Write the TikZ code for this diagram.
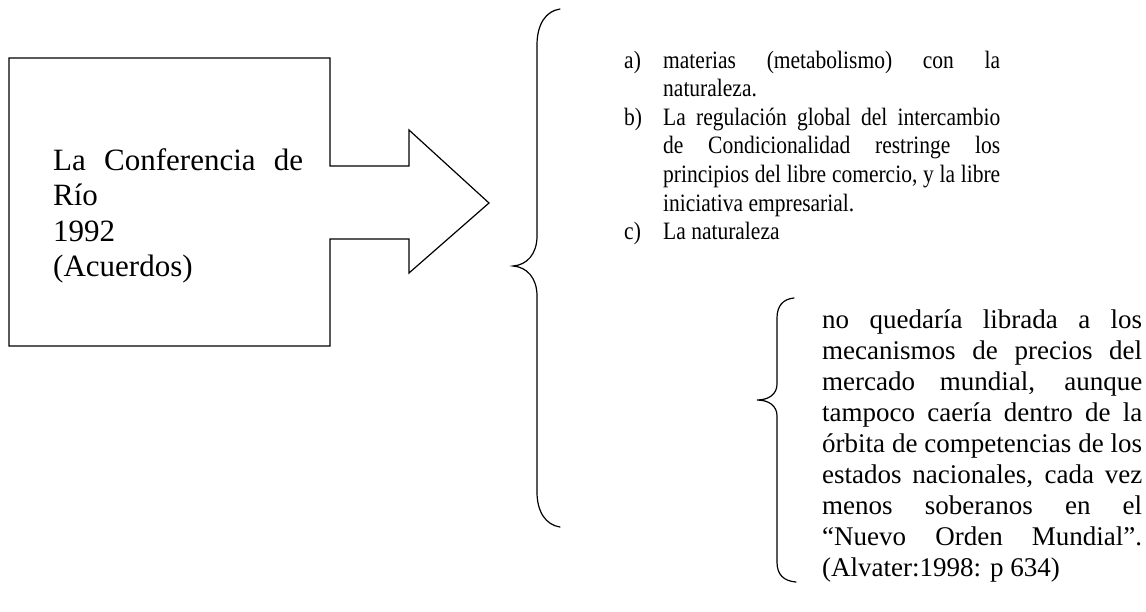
\documentclass[tikz,border=0pt]{standalone}
\usepackage{fontspec}
\setmainfont{Liberation Serif}
\newfontfamily\listfont[FakeStretch=0.86]{Liberation Serif}
\tikzset{
  outline/.style={line width=1.2pt, line join=miter},
  bracestroke/.style={line width=1.2pt, line cap=round},
  txt/.style={inner sep=0pt, anchor=base west},
}
\begin{document}
\begin{tikzpicture}[x=1pt,y=-1pt]
\useasboundingbox (0,0) rectangle (1146,611);
% box with arrow
\coordinate (b1) at (9,58);
\coordinate (b2) at (330,58);
\coordinate (n1) at (330,166);
\coordinate (s1) at (409,166);
\coordinate (h1) at (409,130);
\coordinate (tip) at (489,203);
\coordinate (h2) at (409,273);
\coordinate (s2) at (409,239);
\coordinate (n2) at (330,239);
\coordinate (b3) at (330,346);
\coordinate (b4) at (9,346);
\draw[outline] (b1) -- (b2) -- (n1) -- (s1) -- (h1) -- (tip) -- (h2) -- (s2) -- (n2) -- (b3) -- (b4) -- cycle;
\node[txt] (rio) at (53,170) {\parbox[t]{250pt}{\fontsize{31}{35.5}\selectfont
\makebox[250pt][s]{La Conferencia de}\\
Río\\
1992\\
(Acuerdos)}};
% big brace
\draw[bracestroke] (560,9) .. controls (546,11) and (537,24) .. (537,45) -- (537,236)
  .. controls (537,254) and (527,265) .. (513,266)
  .. controls (527,267) and (537,278) .. (537,296) -- (537,492)
  .. controls (537,512) and (546,525) .. (560,527);
% list
\node[txt] (lista) at (624,68) {\parbox[t]{376pt}{\listfont\fontsize{25}{28.6}\selectfont
\makebox[39pt][l]{a)}\makebox[337pt][s]{materias (metabolismo) con la}\\
\hspace*{39pt}naturaleza.\\
\makebox[39pt][l]{b)}\makebox[337pt][s]{La regulación global del intercambio}\\
\hspace*{39pt}\makebox[337pt][s]{de Condicionalidad restringe los}\\
\hspace*{39pt}\makebox[337pt][s]{principios del libre comercio, y la libre}\\
\hspace*{39pt}iniciativa empresarial.\\
\makebox[39pt][l]{c)}La naturaleza}};
% small brace
\draw[bracestroke] (794,298) .. controls (783,299) and (777,306) .. (777,318) -- (777,384)
  .. controls (777,394) and (769,400) .. (757,400)
  .. controls (769,400) and (777,406) .. (777,416) -- (777,562)
  .. controls (777,575) and (784,581) .. (796,582);
\node[txt] (cita) at (822,328) {\parbox[t]{320pt}{\fontsize{27}{31}\selectfont
\makebox[320pt][s]{no quedaría librada a los}\\
\makebox[320pt][s]{mecanismos de precios del}\\
\makebox[320pt][s]{mercado mundial, aunque}\\
\makebox[320pt][s]{tampoco caería dentro de la}\\
\makebox[320pt][s]{órbita de competencias de los}\\
\makebox[320pt][s]{estados nacionales, cada vez}\\
\makebox[320pt][s]{menos soberanos en el}\\
\makebox[320pt][s]{“Nuevo Orden Mundial”.}\\
(Alvater:1998: p 634)}};
\end{tikzpicture}
\end{document}
